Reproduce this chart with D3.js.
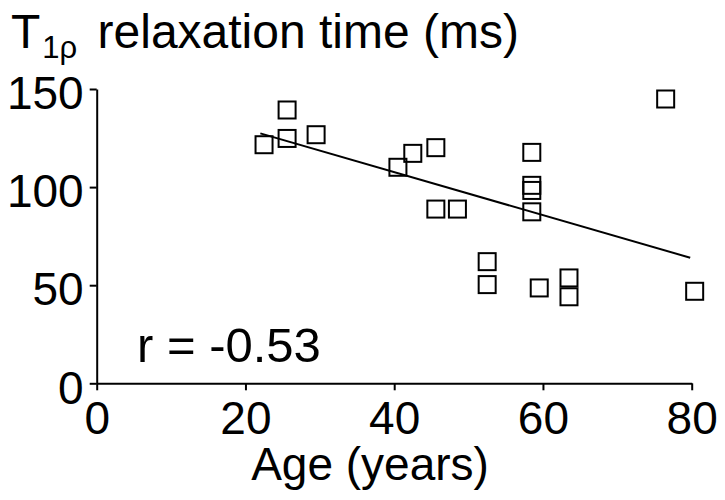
<!DOCTYPE html>
<html>
<head>
<meta charset="utf-8">
<script src="https://cdn.jsdelivr.net/npm/d3@7"></script>
<style>
  body { margin: 0; background: #fff; }
  svg { display: block; font-family: 'Liberation Sans', Arial, sans-serif; }
  .eixo path, .eixo line { stroke: #000; stroke-width: 2; }
  .eixo text { font-size: 46px; fill: #000; }
  .tituloeixo { font-size: 46px; fill: #000; }
</style>
</head>
<body>
<svg id="grafico"></svg>
<script>
// Dados
var idades = [22.5, 25.6, 25.6, 29.5, 40.5, 42.5, 45.6, 45.6, 48.5, 52.5,
              52.5, 58.5, 58.5, 58.5, 58.5, 59.5, 63.5, 63.5, 76.5, 80.4];
var tempos = [121.6, 139.3, 124.8, 126.7, 110.1, 117.2, 120.1, 88.8, 88.8, 62.0,
              50.3, 117.7, 100.9, 98.3, 87.4, 48.6, 53.7, 44.1, 144.9, 46.9];
// Reta de regressão (extremos)
var retaIdades = [22, 79.8];
var retaTempos = [127.4, 64.0];
var ticksX = [0, 20, 40, 60, 80];
var ticksY = [0, 50, 100, 150];
var textoR = 'r = -0.53';

var largura = 725, altura = 500;

var svg = d3.select('#grafico')
            .attr('width', largura)
            .attr('height', altura);

//Definição das margens da área de plotagem
var margem = { esquerda: 96.7, direita: 33.3, superior: 89, inferior: 116.7 };
var larguraPlotagem = largura - margem.esquerda - margem.direita;
var alturaPlotagem = altura - margem.superior - margem.inferior;

var plotagem = svg.append('g')
                  .attr('transform', 'translate(' + margem.esquerda + ',' + margem.superior + ')');

//Escalas
var x = d3.scaleLinear().domain([0, 80]).range([0, larguraPlotagem]);
var y = d3.scaleLinear().domain([0, 150]).range([alturaPlotagem, 0]);

//Eixos
var eixoX = d3.axisBottom(x).tickValues(ticksX).tickSize(7).tickSizeOuter(0).tickPadding(11);
var eixoY = d3.axisLeft(y).tickValues(ticksY).tickSize(7).tickSizeOuter(0).tickPadding(6);

plotagem.append('g')
        .classed('eixo', true)
        .attr('transform', 'translate(0,' + alturaPlotagem + ')')
        .call(eixoX);

var gY = plotagem.append('g')
        .classed('eixo', true)
        .call(eixoY);
gY.selectAll('text').attr('dy', '0.43em');

//Reta de regressão
var linha = d3.line()
              .x(d => x(d[0]))
              .y(d => y(d[1]));
plotagem.append('path')
        .datum(d3.zip(retaIdades, retaTempos))
        .attr('d', linha)
        .attr('fill', 'none')
        .attr('stroke', '#000')
        .attr('stroke-width', 2);

//Pontos (quadrados)
var lado = 17;
plotagem.selectAll('.ponto')
        .data(d3.zip(idades, tempos))
        .enter()
        .append('rect')
        .classed('ponto', true)
        .attr('x', d => x(d[0]) - lado / 2)
        .attr('y', d => y(d[1]) - lado / 2)
        .attr('width', lado)
        .attr('height', lado)
        .attr('fill', 'none')
        .attr('stroke', '#000')
        .attr('stroke-width', 2);

//Texto do coeficiente de correlação
plotagem.append('text')
        .classed('tituloeixo', true)
        .attr('x', 137 - margem.esquerda)
        .attr('y', 362 - margem.superior)
        .style('font-size', '49px')
        .text(textoR);

//Título do eixo X
svg.append('text')
   .classed('tituloeixo', true)
   .attr('x', 370)
   .attr('y', 480)
   .style('text-anchor', 'middle')
   .text('Age (years)');

//Título do eixo Y (no topo)
var titulo = svg.append('text')
                .classed('tituloeixo', true)
                .attr('x', 11)
                .attr('y', 48)
                .style('font-size', '48px');
titulo.append('tspan').text('T');
titulo.append('tspan')
      .attr('dy', 10)
      .attr('dx', 2)
      .style('font-size', '31px')
      .text('1ρ');
titulo.append('tspan')
      .attr('dy', -10)
      .attr('dx', 7)
      .text(' relaxation time (ms)');
</script>
</body>
</html>
